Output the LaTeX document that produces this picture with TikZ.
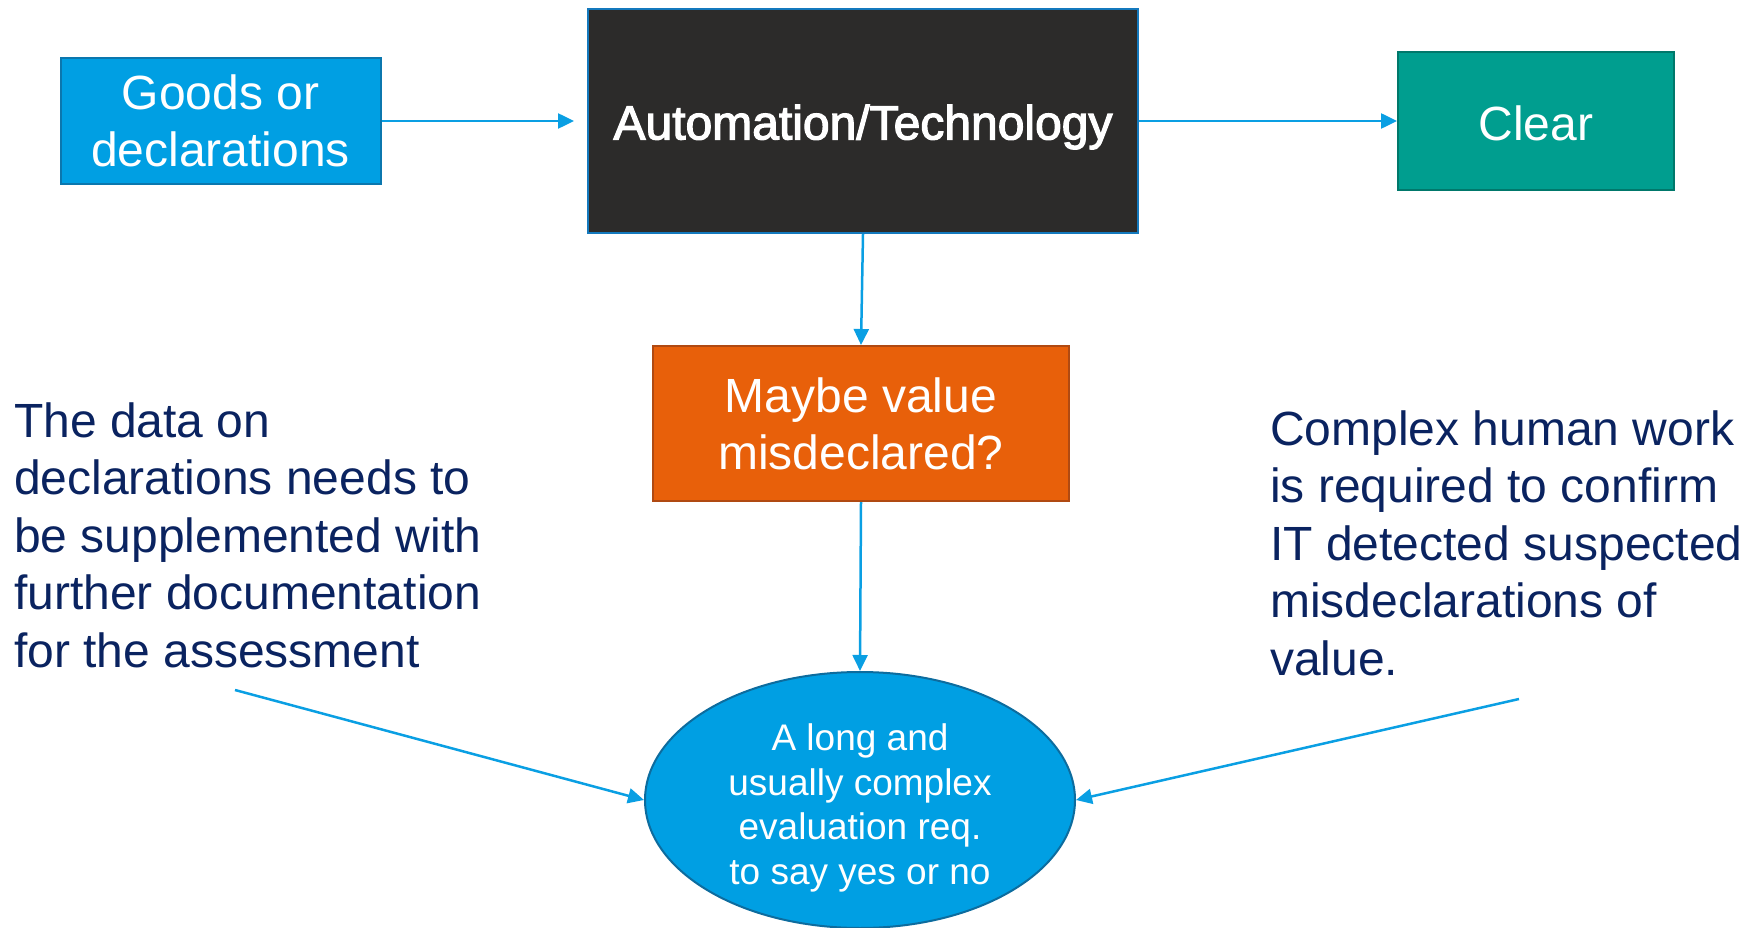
\documentclass[tikz,border=0pt]{standalone}
\usepackage{fontspec}
\setmainfont{Liberation Sans}
\newfontfamily\headfont[FakeBold=2.5]{Liberation Sans}
\usetikzlibrary{arrows.meta,shapes.geometric}

\definecolor{skyfill}{HTML}{009FE3}
\definecolor{skyedge}{HTML}{0B77AE}
\definecolor{darkfill}{HTML}{2C2B2A}
\definecolor{darkedge}{HTML}{1479BD}
\definecolor{tealfill}{HTML}{009E8F}
\definecolor{tealedge}{HTML}{00786B}
\definecolor{orangefill}{HTML}{E8600A}
\definecolor{orangeedge}{HTML}{B04A12}
\definecolor{ovaledge}{HTML}{0D6C9E}
\definecolor{linkblue}{HTML}{0A9FE3}
\definecolor{navytext}{HTML}{0A2360}

\tikzset{
  box/.style={rectangle, draw, line width=2pt, inner sep=0pt, text=white,
    align=center, font=\fontsize{48}{57}\selectfont},
  note/.style={inner sep=0pt, align=left, text=navytext,
    font=\fontsize{48}{57.4}\selectfont},
  link/.style={draw=linkblue, line width=2.5pt,
    -{Triangle[length=16pt,width=15pt]}},
}

\begin{document}
\begin{tikzpicture}[x=1pt, y=-1pt]
  \useasboundingbox (0,0) rectangle (1756,928);

  % process boxes
  \node[box, fill=skyfill, draw=skyedge, minimum width=320pt, minimum height=126pt]
    (goods) at (220.5,121) {Goods or\\declarations};
  \node[box, fill=darkfill, draw=darkedge, minimum width=550pt, minimum height=224pt]
    (auto) at (863,121) {};
  \node[text=white, inner sep=0pt, font=\fontsize{48}{57}\selectfont\headfont]
    (autotext) at (863,127) {Automation/Technology};
  \node[box, fill=tealfill, draw=tealedge, minimum width=276pt, minimum height=138pt]
    (clear) at (1536,121) {};
  \node[text=white, inner sep=0pt, font=\fontsize{48}{57}\selectfont]
    (cleartext) at (1536,123) {Clear};
  \node[box, fill=orangefill, draw=orangeedge, minimum width=416pt, minimum height=155pt]
    (maybe) at (861,423.5) {Maybe value\\misdeclared?};
  \node[ellipse, draw=ovaledge, fill=skyfill, line width=2pt, inner sep=0pt,
    minimum width=430pt, minimum height=256pt] (eval) at (860,800) {};
  \node[text=white, align=center, inner sep=0pt,
    font=\fontsize{37}{44.8}\selectfont]
    (evaltext) at (860,808) {A long and\\usually complex\\evaluation req.\\to say yes or no};

  % side notes (anchored on the baseline of their last line)
  \node[note, anchor=base west] (leftnote) at (14,667)
    {The data on\\declarations needs to\\be supplemented with\\further documentation\\for the assessment};
  \node[note, anchor=base west] (rightnote) at (1270,675)
    {Complex human work\\is required to confirm\\IT detected suspected\\misdeclarations of\\value.};

  % free ends of the note connectors
  \coordinate (leftstart) at (235,690);
  \coordinate (rightstart) at (1519,699);

  % connectors
  \draw[link, shorten >=13pt] (goods.east) -- (auto.west);
  \draw[link] (auto.east) -- (clear.west);
  \draw[link] (auto.south) -- (maybe.north);
  \draw[link] (maybe.south) -- (eval.north);
  \draw[link] (leftstart) -- (eval.west);
  \draw[link] (rightstart) -- (eval.east);
\end{tikzpicture}
\end{document}
